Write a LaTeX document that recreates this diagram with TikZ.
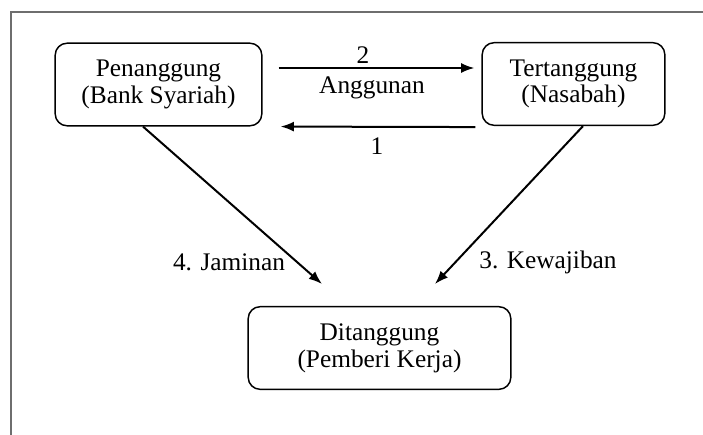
\documentclass[tikz,border=0pt]{standalone}
\usepackage{fontspec}
\setmainfont{Liberation Serif}
\usetikzlibrary{arrows.meta,calc}

\tikzset{every picture/.style={line width=0.75pt}}
\tikzset{
  kotak/.style={draw, rounded corners=9pt, line width=1.1pt, align=center, inner sep=0pt,
    minimum height=62pt, font=\fontsize{19}{20}\selectfont},
  panah/.style={-{Latex[length=10pt,width=7.5pt]}, line width=1.5pt},
  ket/.style={inner sep=0.75pt, font=\fontsize{19}{20}\selectfont}
}

\begin{document}
\begin{tikzpicture}[x=0.75pt,y=0.75pt,yscale=-1,xscale=1]
		\useasboundingbox (0,0) rectangle (703,435);
		%frame
		\draw [color={rgb, 255:red, 110; green, 110; blue, 110 }, line width=1pt] (703,12) -- (11,12) -- (11,435) ;
		
		%boxes
		\node [kotak, minimum width=155pt] (penanggung) at (158.5,84.5) {Penanggung\\(Bank Syariah)};
		\node [kotak, minimum width=137pt] (tertanggung) at (573.5,84) {Tertanggung\\(Nasabah)};
		\node [kotak, minimum width=197pt] (ditanggung) at (379.5,348) {Ditanggung\\(Pemberi Kerja)};
		\coordinate (ujungjaminan) at (322,284);
		\coordinate (ujungkewajiban) at (435,284);
		
		%arrows
		\draw [panah] ($(penanggung.east)+(16,-16.5)$) -- ($(tertanggung.west)+(-7,-16)$) ;
		\draw [panah] ($(tertanggung.south west)+(-6,1)$) -- ($(penanggung.south east)+(18,0)$) ;
		\draw [panah] ($(penanggung.south)+(-15.5,0)$) -- (ujungjaminan) ;
		\draw [panah] ($(tertanggung.south)+(9.5,0)$) -- (ujungkewajiban) ;
		
		%labels
		\node [ket] (lbldua) at (363,55) {2};
		\node [ket] (lblanggunan) at (372,88) {Anggunan};
		\node [ket] (lblsatu) at (377,146) {1};
		\node [ket] (lbljaminan) at (229,262) {4. Jaminan};
		\node [ket] (lblkewajiban) at (548,262) {3. Kewajiban};
		
	\end{tikzpicture}
\end{document}
